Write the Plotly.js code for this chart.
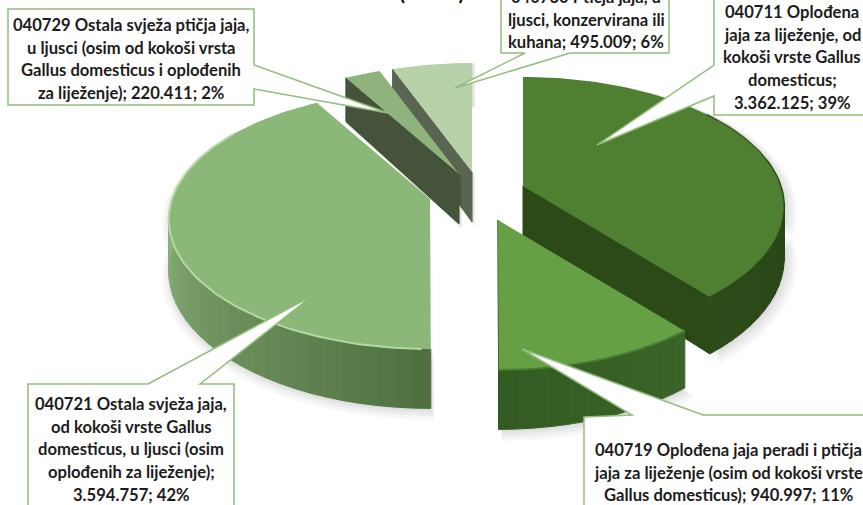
<!DOCTYPE html>
<html>
<head>
<meta charset="utf-8">
<script src="https://cdn.plot.ly/plotly-3.0.1.min.js"></script>
<style>html,body{margin:0;padding:0;background:#fff;overflow:hidden}#chart{width:863px;height:505px}</style>
</head>
<body>
<div id="chart"></div>
<script>
// ---- data ----
const categories = ["040711", "040719", "040721", "040729", "040730"];
const values = [3362125, 940997, 3594757, 220411, 495009];

const labelLines = [
  ["040711 Oplođena", "jaja za liježenje, od", "kokoši vrste Gallus", "domesticus;", "3.362.125; 39%"],
  ["040719 Oplođena jaja peradi i ptičja", "jaja za liježenje (osim od kokoši vrste", "Gallus domesticus); 940.997; 11%"],
  ["040721 Ostala svježa jaja,", "od kokoši vrste Gallus", "domesticus, u ljusci (osim", "oplođenih za liježenje);", "3.594.757; 42%"],
  ["040729 Ostala svježa ptičja jaja,", "u ljusci (osim od kokoši vrsta", "Gallus domesticus i oplođenih", "za liježenje); 220.411; 2%"],
  ["040730 Ptičja jaja, u", "ljusci, konzervirana ili", "kuhana; 495.009; 6%"]
];

// ---- styling and layout ----
const topColors = ["#4f7f30", "#65a045", "#8bb879", "#8fb37d", "#b7d1a8"];
const faceColors = ["#2b4a18", "#2f5a20", "#5f8250", "#445339", "#5a6551"];
const rimFrom = [[38,66,22], [58,100,40], [78,112,64], [60,80,50], [80,90,70]];
const rimTo   = [[44,76,26], [50,92,34], [146,184,128], [60,80,50], [80,90,70]];
const apexX = [523, 498, 430, 459, 472];
const apexY = [186, 220, 199, 174, 172];
const drawOrder = [4, 3, 0, 2, 1];
const radiusX = 258, radiusY = 126.3, depth = 50, persp = 0.158;
const labelX = [792, 728, 131, 131, 586];
const labelY0 = [12, 450, 404, 25, -3];
const lineGap = 22.7;

const total = values.reduce((a, b) => a + b, 0);
const starts = [], ends = [];
values.reduce((acc, v, i) => { starts[i] = acc; ends[i] = acc + v / total * 2 * Math.PI; return ends[i]; }, 0);

function pt(i, t, down) {
  const u = Math.sin(t), w = -Math.cos(t), p = 1 / (1 - persp * w);
  return [apexX[i] + radiusX * u * p, apexY[i] + radiusY * w * p + (down ? depth * p : 0)];
}
function apex(i, down) { return [apexX[i], apexY[i] + (down ? depth : 0)]; }
function arc(i, a, b, down) {
  const n = Math.max(2, Math.ceil(Math.abs(b - a) / 0.03)), out = [];
  for (let k = 0; k <= n; k++) out.push(pt(i, a + (b - a) * k / n, down));
  return out;
}
function poly(points, color, lineColor) {
  const xs = points.map(p => p[0]).concat(points[0][0]);
  const ys = points.map(p => p[1]).concat(points[0][1]);
  return { type: "scatter", mode: "lines", x: xs, y: ys, fill: "toself", fillcolor: color,
    line: { color: lineColor || color, width: lineColor ? 1 : 0 }, hoverinfo: "skip", showlegend: false };
}
function path(points, color, width) {
  return { type: "scatter", mode: "lines", x: points.map(p => p[0]), y: points.map(p => p[1]),
    line: { color: color, width: width }, hoverinfo: "skip", showlegend: false };
}
const traces = [];
function silhouette(i, dx, dy, grow) {
  const front = arc(i, ends[i], starts[i], true);
  return [apex(i, false)].concat(arc(i, starts[i], ends[i], false), front, [apex(i, true)])
    .map(p => [p[0] + dx + (p[0] - apexX[i]) * grow, p[1] + dy + (p[1] - apexY[i]) * grow]);
}
drawOrder.forEach(i => {
  [[3, 4, 0.035], [3, 3, 0.022], [2, 2, 0.012], [1, 1, 0.004]].forEach(s => {
    traces.push(poly(silhouette(i, s[0], s[1], s[2]), "rgba(0,0,0,0.035)"));
  });
  const a = starts[i], b = ends[i];
  if (Math.sin(a) < -0.01) {
    traces.push(poly([apex(i, false), pt(i, a, false), pt(i, a, true), apex(i, true)], faceColors[i], faceColors[i]));
  }
  if (Math.sin(b) > 0) {
    traces.push(poly([apex(i, false), pt(i, b, false), pt(i, b, true), apex(i, true)], faceColors[i], faceColors[i]));
  }
  // outer wall, split so that the shade can change along it
  const lo = Math.max(a, 1.35), hi = Math.min(b, 4.85);
  if (hi > lo) {
    const n = Math.ceil((hi - lo) / 0.06);
    for (let k = 0; k < n; k++) {
      const t0 = lo + (hi - lo) * k / n, t1 = lo + (hi - lo) * (k + 1) / n, f = (k + 0.5) / n;
      const c = rimFrom[i].map((v, j) => Math.round(v + (rimTo[i][j] - v) * f));
      const col = "rgb(" + c.join(",") + ")";
      traces.push(poly([pt(i, t0, false), pt(i, t1, false), pt(i, t1, true), pt(i, t0, true)], col, col));
    }
  }
  traces.push(poly([apex(i, false)].concat(arc(i, a, b, false)), topColors[i]));
  if (i === 2) traces.push(path(arc(i, a + 0.03, 5.3, false), "#b4d8a2", 2));
  if (i === 0) traces.push(path(arc(i, 0.9, b, false), "rgba(40,70,22,0.75)", 1.5));
  if (i === 1) traces.push(path(arc(i, a, b, false), "rgba(70,125,48,0.9)", 2));
});

// ---- callouts ----
function callout(points) {
  return { type: "path", layer: "above", xref: "x", yref: "y", fillcolor: "#ffffff",
    line: { color: "#93bd7c", width: 1.5 },
    path: "M" + points.map(p => p.join(",")).join("L") + "Z" };
}
const shapes = [
  callout([[714,-6],[863,-6],[870,-6],[870,115],[714,115],[714,96],[597,145],[714,65]]),
  callout([[584,417],[632,415],[522,349],[703,415],[870,415],[870,515],[584,515]]),
  callout([[28,384],[148,384],[312,296],[200,384],[234,384],[234,515],[28,515]]),
  callout([[8,9],[254,9],[254,65],[388,113],[254,89],[254,105],[8,105]]),
  callout([[501,-6],[669,-6],[669,53],[570,53],[455,88],[525,53],[501,53]])
];

const annotations = [];
labelLines.forEach((lines, i) => lines.forEach((txt, k) => {
  const yy = labelY0[i] + k * lineGap;
  annotations.push({ xref: "x", yref: "paper", x: labelX[i], y: 1 - yy / 505, text: txt,
    showarrow: false, xanchor: "center", yanchor: "middle",
    font: { family: "Lato, 'Open Sans', sans-serif", size: 16.6, color: "#1c1c1c", weight: 700 } });
}));
annotations.push({ xref: "x", yref: "paper", x: 432, y: 1 + 8 / 505, text: "(          )", showarrow: false,
  xanchor: "center", yanchor: "middle", font: { family: "Lato, sans-serif", size: 22, color: "#111", weight: 700 } });

Plotly.newPlot("chart", traces, {
  width: 863, height: 505, margin: { l: 0, r: 0, t: 0, b: 0 },
  paper_bgcolor: "#ffffff", plot_bgcolor: "#ffffff", showlegend: false,
  xaxis: { range: [0, 863], visible: false, fixedrange: true },
  yaxis: { range: [505, 0], visible: false, fixedrange: true },
  shapes: shapes, annotations: annotations
}, { displayModeBar: false, staticPlot: true });
</script>
</body>
</html>
